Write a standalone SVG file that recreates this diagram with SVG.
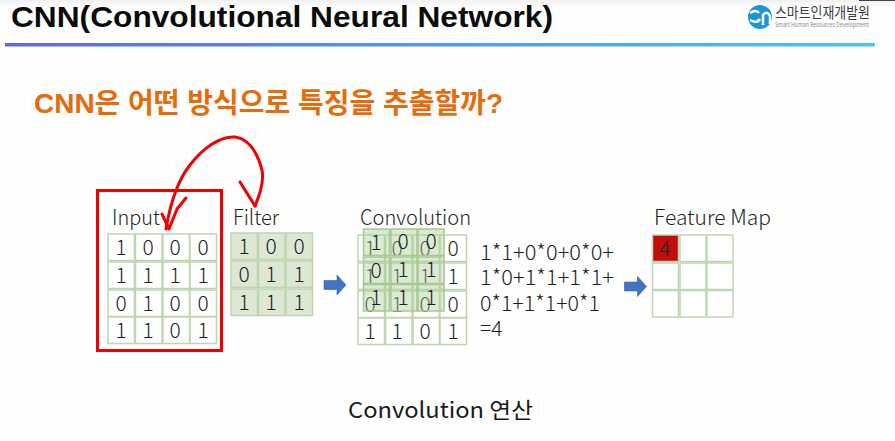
<svg xmlns="http://www.w3.org/2000/svg" width="895" height="441" viewBox="0 0 895 441">
<defs>
<linearGradient id="bar" x1="0" x2="1" y1="0" y2="0"><stop offset="0" stop-color="#5a6be0"/><stop offset="0.5" stop-color="#5499ea"/><stop offset="1" stop-color="#4cc4f2"/></linearGradient>
<linearGradient id="top" x1="0" x2="0" y1="0" y2="1"><stop offset="0" stop-color="#f1f1f3"/><stop offset="1" stop-color="#ffffff"/></linearGradient>
<symbol id="arrow" overflow="visible"><path d="M0 5.500H13V0L22 10L13 20V14.500H0Z" fill="#4472c4" stroke="#3a62ab" stroke-width="0.6"/></symbol>
</defs>
<style>
text{font-family:"Noto Sans CJK KR","Noto Sans",sans-serif;fill:#1f1f1f}
.h{font-size:21px;font-weight:300}
.d{font-size:21px;font-weight:300;text-anchor:middle}
.c{fill:#fff;stroke:#c0d4b2;stroke-width:1.500}
.f{fill:#dde8d4;stroke:#c0d4b2;stroke-width:1.500}
.o{fill:#a9cc96;fill-opacity:.42;stroke:#a7c795;stroke-width:1.500}
.e{font-size:21px;font-weight:300}
.r{fill:none;stroke:#f00000;stroke-linecap:round;stroke-linejoin:round}
.b{font-family:"Liberation Sans","Noto Sans CJK KR",sans-serif;font-weight:700}
</style>
<rect width="895" height="441" fill="#fefefe"/>
<rect width="895" height="8" fill="url(#top)"/>
<rect x="859" y="0" width="36" height="1" fill="#444"/>
<g id="header">
<text class="b" x="11" y="27" font-size="30" style="fill:#0c0c0c" textLength="542" lengthAdjust="spacingAndGlyphs">CNN(Convolutional Neural Network)</text>
<rect x="5" y="43" width="870" height="3.500" fill="url(#bar)"/>
</g>
<g id="logo">
<circle cx="760" cy="17" r="12" fill="#1b97d6"/>
<path d="M750 13Q756 9 759 13M750 20Q757 24 760 19M763 25V15Q767 10 770 16V24" fill="none" stroke="#fff" stroke-width="2.500"/>
<text x="775" y="18" font-size="15" font-weight="400" style="fill:#3c3c3c" textLength="95" lengthAdjust="spacingAndGlyphs">스마트인재개발원</text>
<text x="775" y="27" font-size="6.500" style="fill:#8a8a8a" textLength="94" lengthAdjust="spacingAndGlyphs">Smart Human Resources Development</text>
</g>
<text id="subtitle" class="b" x="34" y="113" font-size="28" style="fill:#e46c0a" textLength="469" lengthAdjust="spacingAndGlyphs">CNN은 어떤 방식으로 특징을 추출할까?</text>
<g id="input">
<text class="h" x="112" y="225" textLength="48" lengthAdjust="spacingAndGlyphs">Input</text>
<g><rect class="c" x="108" y="234" width="26.500" height="26.500"/><rect class="c" x="135.500" y="234" width="26.500" height="26.500"/><rect class="c" x="163" y="234" width="26.500" height="26.500"/><rect class="c" x="190" y="234" width="26.500" height="26.500"/>
<rect class="c" x="108" y="262" width="26.500" height="26.500"/><rect class="c" x="135.500" y="262" width="26.500" height="26.500"/><rect class="c" x="163" y="262" width="26.500" height="26.500"/><rect class="c" x="190" y="262" width="26.500" height="26.500"/>
<rect class="c" x="108" y="290" width="26.500" height="26.500"/><rect class="c" x="135.500" y="290" width="26.500" height="26.500"/><rect class="c" x="163" y="290" width="26.500" height="26.500"/><rect class="c" x="190" y="290" width="26.500" height="26.500"/>
<rect class="c" x="108" y="317" width="26.500" height="26.500"/><rect class="c" x="135.500" y="317" width="26.500" height="26.500"/><rect class="c" x="163" y="317" width="26.500" height="26.500"/><rect class="c" x="190" y="317" width="26.500" height="26.500"/></g>
<g><text x="121" y="255" class="d">1</text><text x="148" y="255" class="d">0</text><text x="175" y="255" class="d">0</text><text x="203" y="255" class="d">0</text>
<text x="121" y="283" class="d">1</text><text x="148" y="283" class="d">1</text><text x="175" y="283" class="d">1</text><text x="203" y="283" class="d">1</text>
<text x="121" y="311" class="d">0</text><text x="148" y="311" class="d">1</text><text x="175" y="311" class="d">0</text><text x="203" y="311" class="d">0</text>
<text x="121" y="338" class="d">1</text><text x="148" y="338" class="d">1</text><text x="175" y="338" class="d">0</text><text x="203" y="338" class="d">1</text></g>
</g>
<g id="filter">
<text class="h" x="233" y="225" textLength="46" lengthAdjust="spacingAndGlyphs">Filter</text>
<rect class="f" x="231" y="233" width="26.500" height="26.500"/><rect class="f" x="258.500" y="233" width="26.500" height="26.500"/><rect class="f" x="286" y="233" width="26.500" height="26.500"/>
<rect class="f" x="231" y="261" width="26.500" height="26.500"/><rect class="f" x="258.500" y="261" width="26.500" height="26.500"/><rect class="f" x="286" y="261" width="26.500" height="26.500"/>
<rect class="f" x="231" y="289" width="26.500" height="26.500"/><rect class="f" x="258.500" y="289" width="26.500" height="26.500"/><rect class="f" x="286" y="289" width="26.500" height="26.500"/>
<text x="244" y="254" class="d">1</text><text x="271" y="254" class="d">0</text><text x="299" y="254" class="d">0</text>
<text x="244" y="282" class="d">0</text><text x="271" y="282" class="d">1</text><text x="299" y="282" class="d">1</text>
<text x="244" y="310" class="d">1</text><text x="271" y="310" class="d">1</text><text x="299" y="310" class="d">1</text>
</g>
<g id="convolution">
<text class="h" x="360" y="225" textLength="111" lengthAdjust="spacingAndGlyphs">Convolution</text>
<rect class="c" x="358" y="235" width="26.500" height="26.500"/><rect class="c" x="385.500" y="235" width="26.500" height="26.500"/><rect class="c" x="413" y="235" width="26.500" height="26.500"/><rect class="c" x="440" y="235" width="26.500" height="26.500"/>
<rect class="c" x="358" y="263" width="26.500" height="26.500"/><rect class="c" x="385.500" y="263" width="26.500" height="26.500"/><rect class="c" x="413" y="263" width="26.500" height="26.500"/><rect class="c" x="440" y="263" width="26.500" height="26.500"/>
<rect class="c" x="358" y="291" width="26.500" height="26.500"/><rect class="c" x="385.500" y="291" width="26.500" height="26.500"/><rect class="c" x="413" y="291" width="26.500" height="26.500"/><rect class="c" x="440" y="291" width="26.500" height="26.500"/>
<rect class="c" x="358" y="318" width="26.500" height="26.500"/><rect class="c" x="385.500" y="318" width="26.500" height="26.500"/><rect class="c" x="413" y="318" width="26.500" height="26.500"/><rect class="c" x="440" y="318" width="26.500" height="26.500"/>
<text x="370" y="256" class="d">1</text><text x="397" y="256" class="d">0</text><text x="425" y="256" class="d">0</text><text x="453" y="256" class="d">0</text>
<text x="370" y="284" class="d">1</text><text x="397" y="284" class="d">1</text><text x="425" y="284" class="d">1</text><text x="453" y="284" class="d">1</text>
<text x="370" y="312" class="d">0</text><text x="397" y="312" class="d">1</text><text x="425" y="312" class="d">0</text><text x="453" y="312" class="d">0</text>
<text x="370" y="339" class="d">1</text><text x="397" y="339" class="d">1</text><text x="425" y="339" class="d">0</text><text x="453" y="339" class="d">1</text>
<rect class="o" x="363.500" y="229" width="26" height="26.500"/><rect class="o" x="391" y="229" width="26" height="26.500"/><rect class="o" x="418" y="229" width="26" height="26.500"/>
<rect class="o" x="363.500" y="257" width="26" height="26.500"/><rect class="o" x="391" y="257" width="26" height="26.500"/><rect class="o" x="418" y="257" width="26" height="26.500"/>
<rect class="o" x="363.500" y="284.500" width="26" height="26.500"/><rect class="o" x="391" y="284.500" width="26" height="26.500"/><rect class="o" x="418" y="284.500" width="26" height="26.500"/>
<text x="376" y="250" class="d">1</text><text x="403" y="249" class="d">0</text><text x="431" y="249" class="d">0</text>
<text x="376" y="278" class="d">0</text><text x="403" y="277" class="d">1</text><text x="431" y="277" class="d">1</text>
<text x="376" y="305" class="d">1</text><text x="403" y="305" class="d">1</text><text x="431" y="305" class="d">1</text>
</g>
<g id="formula">
<text class="e" x="480" y="260" textLength="134" lengthAdjust="spacingAndGlyphs">1*1+0*0+0*0+</text>
<text class="e" x="480" y="285" textLength="134" lengthAdjust="spacingAndGlyphs">1*0+1*1+1*1+</text>
<text class="e" x="480" y="311" textLength="120" lengthAdjust="spacingAndGlyphs">0*1+1*1+0*1</text>
<text class="e" x="480" y="336">=4</text>
</g>
<g id="feature-map">
<text class="h" x="654" y="225" textLength="117" lengthAdjust="spacingAndGlyphs">Feature Map</text>
<rect x="652.500" y="235" width="26" height="26.500" fill="#c00d0d" stroke="#c0d4b2" stroke-width="1.500"/><rect class="c" x="680" y="235" width="26" height="26.500"/><rect class="c" x="707" y="235" width="26" height="26.500"/>
<rect class="c" x="652.500" y="263" width="26" height="26.500"/><rect class="c" x="680" y="263" width="26" height="26.500"/><rect class="c" x="707" y="263" width="26" height="26.500"/>
<rect class="c" x="652.500" y="290.500" width="26" height="26.500"/><rect class="c" x="680" y="290.500" width="26" height="26.500"/><rect class="c" x="707" y="290.500" width="26" height="26.500"/>
<text x="665" y="256" class="d">4</text>
</g>
<g id="connectors">
<use href="#arrow" x="324" y="275"/>
<use href="#arrow" x="624.500" y="276.500"/>
<path class="r" stroke-width="3" d="M166 229C170 205 178 180 190 165C203 148 220 136 235 137C250 139 258 155 262 170C264 180 261 192 255 206"/>
<path class="r" stroke-width="3" d="M162 214L169 229L177 209L186 198"/>
<path class="r" stroke-width="3" d="M240 182L255 206"/>
</g>
<rect id="highlight" x="97.500" y="190.500" width="124" height="160" fill="none" stroke="#f00000" stroke-width="3"/>
<text id="caption" x="348" y="418" font-size="22" style="fill:#1a1a1a" textLength="185" lengthAdjust="spacingAndGlyphs">Convolution 연산</text>
</svg>
